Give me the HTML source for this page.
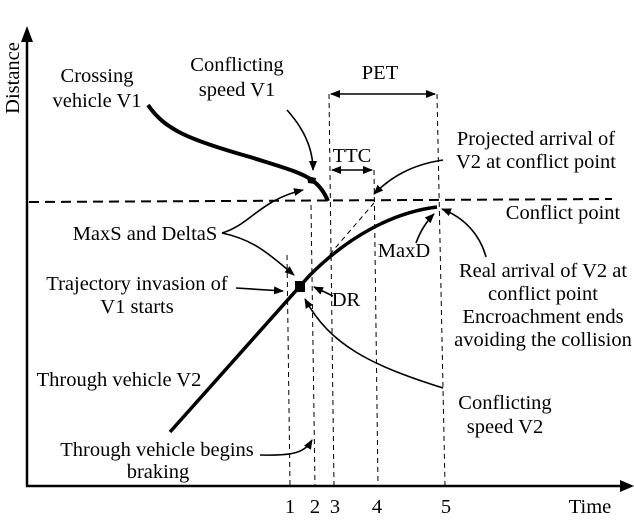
<!DOCTYPE html>
<html><head><meta charset="utf-8"><style>
html,body{margin:0;padding:0;background:#fff;}
svg{display:block;}
text{font-family:"Liberation Serif",serif;font-size:20.5px;fill:#000;}
</style></head><body>
<svg width="634" height="529" viewBox="0 0 634 529" xmlns="http://www.w3.org/2000/svg">
<defs>
<marker id="a" markerWidth="10" markerHeight="10" refX="9" refY="5" orient="auto" markerUnits="userSpaceOnUse"><path d="M0,1 L10,5 L0,9 Z" fill="#000"/></marker>
<marker id="as" markerWidth="10" markerHeight="10" refX="1" refY="5" orient="auto" markerUnits="userSpaceOnUse"><path d="M10,1 L0,5 L10,9 Z" fill="#000"/></marker>
</defs>
<line x1="27" y1="486" x2="27" y2="40" stroke="#000" stroke-width="2.5"/>
<path d="M21,42 L27,26 L33,42 Z" fill="#000"/>
<line x1="26" y1="486" x2="622" y2="486" stroke="#000" stroke-width="2.5"/>
<path d="M620,480 L634,486 L620,492 Z" fill="#000"/>
<text transform="translate(19,78) rotate(-90)" text-anchor="middle">Distance</text>
<line x1="29" y1="202" x2="612" y2="199" stroke="#000" stroke-width="2" stroke-dasharray="10,6"/>
<g stroke="#000" stroke-width="1" stroke-dasharray="5,4" fill="none">
<line x1="287" y1="255" x2="290" y2="486"/>
<line x1="311" y1="205" x2="315" y2="486"/>
<line x1="329" y1="94" x2="334" y2="486"/>
<line x1="374" y1="170" x2="378" y2="486"/>
<line x1="437" y1="94" x2="445" y2="486"/>
<line x1="318" y1="268" x2="374" y2="203"/>
</g>
<line x1="331" y1="94" x2="435" y2="94" stroke="#000" stroke-width="1.5" marker-start="url(#as)" marker-end="url(#a)"/>
<text x="380" y="79" text-anchor="middle">PET</text>
<line x1="332" y1="170" x2="372" y2="170" stroke="#000" stroke-width="1.5" marker-start="url(#as)" marker-end="url(#a)"/>
<text x="352" y="162" text-anchor="middle">TTC</text>
<path d="M148,105 C165,130 190,140 250,157 C285,168 300,172 312,180 C320,186 324,192 328,201" stroke="#000" stroke-width="4" fill="none"/>
<path d="M307,176 L316,178 L315,184 L308,183 Z" fill="#000"/>
<path d="M170,432 L310,275 C350,235 395,212 437,207" stroke="#000" stroke-width="3.5" fill="none"/>
<rect x="295" y="281" width="10" height="11" fill="#000"/>
<path d="M305,299 C330,345 370,365 443,388" stroke="#000" stroke-width="1.6" fill="none" marker-start="url(#as)"/>
<g stroke="#000" stroke-width="1.6" fill="none">
<path d="M287,110 C305,130 313,150 313,170" marker-end="url(#a)"/>
<path d="M222,233 C250,225 260,200 303,190" marker-end="url(#a)"/>
<path d="M222,233 C255,240 270,255 294,275" marker-end="url(#a)"/>
<path d="M236,288 L283,291" marker-end="url(#a)"/>
<path d="M333,296 L314,287" marker-end="url(#a)"/>
<path d="M260,455 C295,456 305,452 312,440" marker-end="url(#a)"/>
<path d="M443,160 C410,165 390,178 374,194" marker-end="url(#a)"/>
<path d="M416,243 C420,232 426,222 434,214" marker-end="url(#a)"/>
<path d="M486,257 C480,235 465,218 442,209" marker-end="url(#a)"/>
</g>
<g text-anchor="middle">
<text x="97" y="82">Crossing</text>
<text x="97" y="107">vehicle V1</text>
<text x="237" y="71">Conflicting</text>
<text x="237" y="96">speed  V1</text>
<text x="145" y="240">MaxS and DeltaS</text>
<text x="137" y="290">Trajectory invasion of</text>
<text x="137" y="313">V1 starts</text>
<text x="346" y="306">DR</text>
<text x="119" y="386">Through vehicle V2</text>
<text x="157" y="456">Through vehicle begins</text>
<text x="158" y="478">braking</text>
<text x="536" y="145">Projected arrival of</text>
<text x="536" y="168">V2 at conflict point</text>
<text x="563" y="219">Conflict point</text>
<text x="404" y="257">MaxD</text>
<text x="543" y="277">Real arrival of V2 at</text>
<text x="543" y="300">conflict point</text>
<text x="543" y="323">Encroachment ends</text>
<text x="543" y="346">avoiding the collision</text>
<text x="505" y="409">Conflicting</text>
<text x="505" y="433">speed V2</text>
<text x="290" y="513">1</text>
<text x="315" y="513">2</text>
<text x="335" y="513">3</text>
<text x="377" y="513">4</text>
<text x="446" y="513">5</text>
<text x="590" y="513">Time</text>
</g>
</svg>
</body></html>
